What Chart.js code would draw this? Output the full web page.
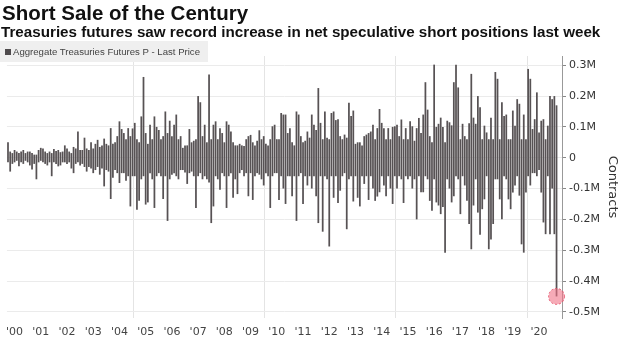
<!DOCTYPE html>
<html>
<head>
<meta charset="utf-8">
<script src="https://cdn.jsdelivr.net/npm/chart.js@4"></script>
<style>
  html, body { margin: 0; padding: 0; background: #fff; }
  #wrap { position: relative; width: 620px; height: 351px; overflow: hidden; }
  #chart { position: absolute; left: 0; top: 0; }
  #title { position: absolute; left: 2px; top: 1px; font: bold 20.5px "Liberation Sans", Arial, sans-serif; color: #111; white-space: nowrap; }
  #subtitle { position: absolute; left: 1px; top: 23px; font: bold 15.2px "Liberation Sans", Arial, sans-serif; color: #111; white-space: nowrap; }
  #legend { position: absolute; left: 0; top: 41px; width: 208px; height: 21px; background: #efefef; color: #444;
            font: 9.6px "Liberation Sans", Arial, sans-serif; line-height: 21px; white-space: nowrap; }
  #legend i { display: inline-block; width: 6px; height: 6px; background: #4f4b4d; margin: 0 2px 0 5px; vertical-align: 0; }
</style>
</head>
<body>
<div id="wrap">
  <canvas id="chart" width="620" height="351"></canvas>
  <div id="title">Short Sale of the Century</div>
  <div id="subtitle">Treasuries futures saw record increase in net speculative short positions last week</div>
  <div id="legend"><i></i>Aggregate Treasuries Futures P - Last Price</div>
</div>
<script>
// monthly slots, Mar 2000 .. Apr 2021 (last two slots have no data yet)
const startYear = 2000, startMonth = 3, slotCount = 254;

// highest / lowest weekly net position inside each month, thousands of contracts
const monthHigh = [
  50, 20, 15, 25, 20, 15, 20, 25, 15, 20,                 // 2000
  20, 15, 10, 10, 25, 32, 30, 20, 15, 20, 15, 28,         // 2001
  22, 25, 18, 20, 40, 30, 20, 15, 35, 30, 85, 25,         // 2002
  25, 65, 30, 25, 50, 30, 45, 58, 35, 40, 62, 45,         // 2003
  40, 96, 45, 50, 70, 118, 93, 80, 60, 96, 70, 95,        // 2004
  113, 60, 50, 134, 262, 80, 45, 107, 60, 134, 100, 90,   // 2005
  60, 70, 150, 80, 120, 70, 107, 140, 60, 70, 32, 40,     // 2006
  40, 93, 50, 55, 60, 200, 180, 70, 107, 50, 270, 60,     // 2007
  107, 118, 60, 96, 80, 50, 118, 107, 85, 50, 40, 40,     // 2008
  45, 40, 38, 60, 70, 74, 50, 40, 55, 89, 60, 70,         // 2009
  45, 40, 60, 102, 107, 60, 60, 145, 140, 140, 80, 96,    // 2010
  50, 40, 150, 140, 70, 50, 55, 85, 65, 140, 107, 90,     // 2011
  226, 113, 60, 150, 65, 60, 145, 150, 122, 125, 70, 60,  // 2012
  75, 65, 178, 135, 153, 45, 50, 50, 40, 70, 75, 80,      // 2013
  85, 107, 60, 96, 158, 113, 96, 60, 96, 60, 100, 102,    // 2014
  107, 70, 124, 60, 96, 60, 118, 102, 55, 96, 129, 80,    // 2015
  140, 245, 156, 70, 50, 302, 100, 110, 130, 100, 50, 120, // 2016
  115, 105, 245, 302, 228, 60, 110, 70, 60, 112, 272, 130, // 2017
  110, 200, 164, 60, 104, 82, 60, 130, 60, 278, 256, 60,  // 2018
  180, 135, 140, 60, 60, 153, 104, 190, 175, 60, 140, 60, // 2019
  288, 256, 93, 125, 212, 82, 120, 125, 60, 104, 200, 190, // 2020
  200, 170                                                // 2021
];
const monthLow = [
  -15, -45, -20, -15, -10, -28, -15, -20, -10, -15,
  -25, -38, -20, -70, -15, -10, -15, -20, -25, -15, -60, -15,
  -20, -28, -25, -15, -15, -20, -15, -35, -50, -20, -15, -25,
  -20, -30, -45, -30, -35, -50, -40, -30, -55, -35, -93, -40,
  -45, -134, -65, -40, -50, -82, -50, -50, -75, -60, -158, -60,
  -60, -169, -140, -70, -60, -152, -145, -50, -70, -163, -60, -50,
  -60, -134, -60, -205, -70, -55, -50, -60, -70, -40, -40, -48,
  -85, -50, -45, -60, -163, -60, -50, -70, -60, -70, -80, -212,
  -158, -60, -70, -104, -50, -60, -163, -60, -50, -130, -70, -118,
  -50, -40, -60, -50, -125, -50, -137, -60, -50, -55, -70, -90,
  -50, -60, -163, -60, -50, -50, -137, -60, -100, -150, -60, -60,
  -125, -60, -205, -60, -50, -150, -60, -90, -60, -100, -60, -125,
  -212, -60, -240, -60, -70, -288, -60, -130, -60, -147, -107, -60,
  -50, -232, -70, -60, -142, -60, -130, -158, -60, -85, -60, -137,
  -60, -100, -140, -126, -112, -60, -90, -125, -60, -100, -150, -60,
  -100, -60, -70, -147, -60, -70, -60, -100, -70, -200, -60, -112,
  -112, -60, -70, -140, -172, -70, -145, -155, -183, -160, -308, -70,
  -100, -145, -125, -60, -70, -183, -60, -90, -140, -215, -297, -155,
  -70, -178, -250, -167, -135, -60, -297, -265, -215, -70, -70, -135,
  -200, -60, -70, -135, -167, -113, -90, -60, -123, -281, -308, -113,
  -60, -90, -50, -50, -60, -40, -113, -210, -248, -60, -248, -100,
  -248, -450
];

const months = [];
for (let k = 0; k < slotCount; k++) {
  const m = startMonth - 1 + k;
  months.push(`${startYear + Math.floor(m / 12)}-${String(m % 12 + 1).padStart(2, '0')}`);
}

// red dashed ring on the latest reading
const markLast = {
  id: 'markLast',
  afterDatasetsDraw(chart) {
    const i = monthLow.length - 1;
    const bar = chart.getDatasetMeta(0).data[i];
    const y = chart.scales.y.getPixelForValue(monthLow[i]);
    const ctx = chart.ctx;
    ctx.save();
    ctx.beginPath();
    ctx.arc(bar.x, y, 8, 0, Math.PI * 2);
    ctx.fillStyle = 'rgba(240,115,135,0.6)';
    ctx.fill();
    ctx.setLineDash([2, 2]);
    ctx.strokeStyle = 'rgba(228,80,105,0.9)';
    ctx.lineWidth = 1;
    ctx.stroke();
    ctx.restore();
  }
};

new Chart(document.getElementById('chart'), {
  type: 'bar',
  data: {
    labels: months,
    datasets: [{
      label: 'Aggregate Treasuries Futures P - Last Price',
      data: monthLow.map((lo, i) => [lo, monthHigh[i]]),
      backgroundColor: '#575254',
      borderWidth: 0,
      barPercentage: 0.8,
      categoryPercentage: 1
    }]
  },
  options: {
    responsive: false,
    animation: false,
    layout: { padding: { top: 56, left: 0, right: 0, bottom: 0 } },
    plugins: { legend: { display: false }, tooltip: { enabled: false } },
    scales: {
      x: {
        grid: {
          offset: true,
          drawTicks: false,
          color: c => {
            const l = months[c.index];
            return l && l.endsWith('-01') && (+l.slice(0, 4)) % 5 === 0 ? '#e4e4e4' : 'rgba(0,0,0,0)';
          }
        },
        border: { display: false },
        ticks: {
          autoSkip: false,
          maxRotation: 0,
          padding: 8,
          color: '#444',
          font: { family: 'DejaVu Sans', size: 11 },
          callback: (v, i) => months[i].endsWith('-06') ? "'" + months[i].slice(2, 4) : ''
        },
        afterFit: s => { s.height = 33; }
      },
      y: {
        position: 'right',
        min: -520,
        max: 330,
        ticks: {
          stepSize: 100,
          includeBounds: false,
          padding: 3,
          color: '#333',
          font: { family: 'DejaVu Sans', size: 11 },
          callback: v => v === 0 ? '0' : (v / 1000).toFixed(1) + 'M'
        },
        grid: { color: '#ebebeb', tickColor: '#888', tickLength: 4 },
        border: { color: '#999' },
        title: { display: true, text: 'Contracts', color: '#333', padding: 0, font: { family: 'DejaVu Sans', size: 13 } },
        afterFit: s => { s.width = 58; }
      }
    }
  },
  plugins: [markLast]
});
</script>
</body>
</html>
